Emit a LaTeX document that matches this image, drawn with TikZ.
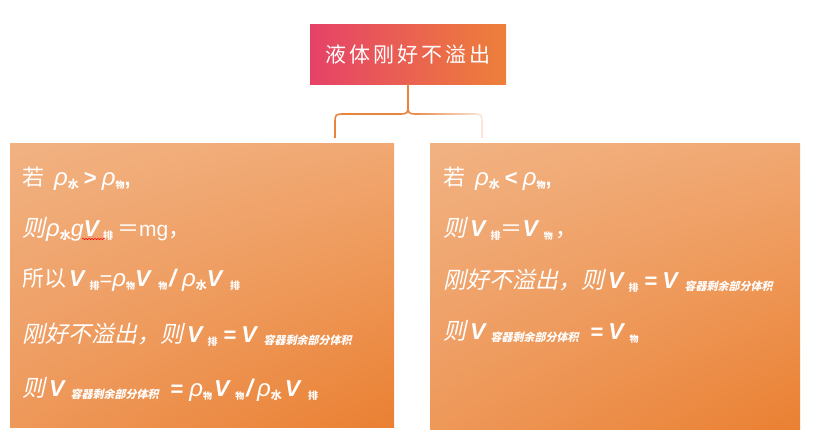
\documentclass[tikz,border=0pt]{standalone}
\usepackage{fontspec}
\setmainfont{Liberation Sans}
\newfontfamily\cjk{Noto Sans CJK SC}
\newfontfamily\cjkit{Noto Sans CJK SC}[FakeSlant=0.22]
\usetikzlibrary{fadings,shadings,decorations.pathmorphing}
\definecolor{tl}{RGB}{230,66,104}
\definecolor{tr}{RGB}{237,128,58}
\definecolor{bul}{RGB}{241,178,130}
\definecolor{bur}{RGB}{241,168,114}
\definecolor{bll}{RGB}{238,152,90}
\definecolor{blr}{RGB}{234,128,50}
\definecolor{conncol}{RGB}{232,132,62}
\tikzfading[name=fadeR, left color=transparent!0, right color=transparent!80]
\newcommand\rh{{\fontsize{24}{24}\selectfont\itshape ρ}}
\newcommand\Vi{{\fontsize{23}{23}\selectfont\bfseries\itshape V}}
\newcommand\slsh{{\fontsize{24}{24}\selectfont\bfseries\itshape /}}
\newcommand\dsub[2][10]{\raisebox{-3pt}{\fontsize{#1}{#1}\selectfont\cjk\bfseries #2}}
\newcommand\dsubb[1]{\raisebox{-2pt}{\fontsize{11}{11}\selectfont\cjkit\bfseries #1}}
\newcommand\zhi[1]{{\fontsize{23}{23}\selectfont\cjkit #1}}
\newcommand\zh[1]{{\fontsize{22}{22}\selectfont\cjk #1}}
\newcommand\hs[1]{\hspace{#1pt}}
\tikzset{
  titlebox/.style={rectangle, minimum width=196pt, minimum height=60pt, inner sep=0pt,
    left color=tl, right color=tr, text=white, font=\fontsize{21}{21}\selectfont\cjk},
  box/.style={rectangle, anchor=north west, inner sep=0pt,
    upper left=bul, upper right=bur, lower left=bll, lower right=blr},
  line/.style={anchor=base west, inner sep=0pt, text=white, font=\fontsize{22}{22}\selectfont},
  connl/.style={draw=conncol, line width=1.6pt},
  connr/.style={draw=conncol, line width=1.6pt, path fading=fadeR}
}
\begin{document}
\begin{tikzpicture}[x=1pt,y=-1pt]
\useasboundingbox (0,0) rectangle (814,439);
\node[titlebox] (t) at (408,54) {液\hspace{3pt}体\hspace{3pt}刚\hspace{3pt}好\hspace{3pt}不\hspace{3pt}溢\hspace{3pt}出};
\node[box, minimum width=384pt, minimum height=284pt] (L) at (10,143) {};
\node[box, minimum width=370pt, minimum height=286pt] (R) at (430,143) {};
\coordinate (lend) at (335,138);
\coordinate (rend) at (482,138);
\draw[connl] (t.south) -- (408,104) .. controls (408,114) .. (398,114) -- (345,114) .. controls (335,114) .. (335,124) -- (lend);
\draw[connr] (408,104) .. controls (408,114) .. (418,114) -- (472,114) .. controls (482,114) .. (482,124) -- (rend);
% left box
\node[line] (l1) at (22,185) {\zh{若}\hs{10}\rh\dsub[11]{水}\hs{5}\textbf{>}\hs{5}\rh\dsub[9]{物}\textbf{,}};
\node[line] (l2) at (22,236) {\zhi{则}\hs{1}\rh\dsub[11]{水}{\fontsize{23}{23}\selectfont\itshape g\bfseries V}\hs{4}\dsub{排}\hs{4}\zh{＝}{\fontsize{21}{21}\selectfont mg}\zh{，}};
\node[line] (l3) at (22,286) {\zh{所以}\hs{3}\Vi\hs{5}\dsub{排}=\rh\dsub[9]{物}\Vi\hs{8}\dsub[9]{物}\hs{2}\slsh\hs{6}\rh\dsub[11]{水}\Vi\hs{8}\dsub{排}};
\node[line] (l4) at (22,342) {\zhi{刚好不溢出，则}\hs{4}\Vi\hs{5}\dsub{排}\hs{6}\textbf{=}\hs{5}\Vi\hs{7}\dsubb{容器剩余部分体积}};
\node[line] (l5) at (22,396) {\zhi{则}\hs{4}\Vi\hs{6}\dsubb{容器剩余部分体积}\hs{12}\textbf{=}\hs{6}\rh\dsub[9]{物}\hs{2}\Vi\hs{6}\dsub[9]{物}\hs{2}\slsh\hs{4}\rh\dsub[11]{水}\hs{3}\Vi\hs{8}\dsub{排}};
\draw[red, line width=0.5pt, decorate, decoration={snake, amplitude=0.7pt, segment length=3pt}] (82,239) -- (105,239);
% right box
\node[line] (r1) at (443,185) {\zh{若}\hs{10}\rh\dsub[11]{水}\hs{5}\textbf{<}\hs{5}\rh\dsub[9]{物}\textbf{,}};
\node[line] (r2) at (443,236) {\zhi{则}\hs{4}\Vi\hs{5}\dsub{排}\zh{＝}\Vi\hs{6}\dsub[9]{物}\hs{3}\zh{，}};
\node[line] (r3) at (443,288) {\zhi{刚好不溢出，则}\hs{4}\Vi\hs{5}\dsub{排}\hs{6}\textbf{=}\hs{5}\Vi\hs{7}\dsubb{容器剩余部分体积}};
\node[line] (r4) at (443,339) {\zhi{则}\hs{4}\Vi\hs{5}\dsubb{容器剩余部分体积}\hs{12}\textbf{=}\hs{5}\Vi\hs{6}\dsub[9]{物}};
\end{tikzpicture}
\end{document}
